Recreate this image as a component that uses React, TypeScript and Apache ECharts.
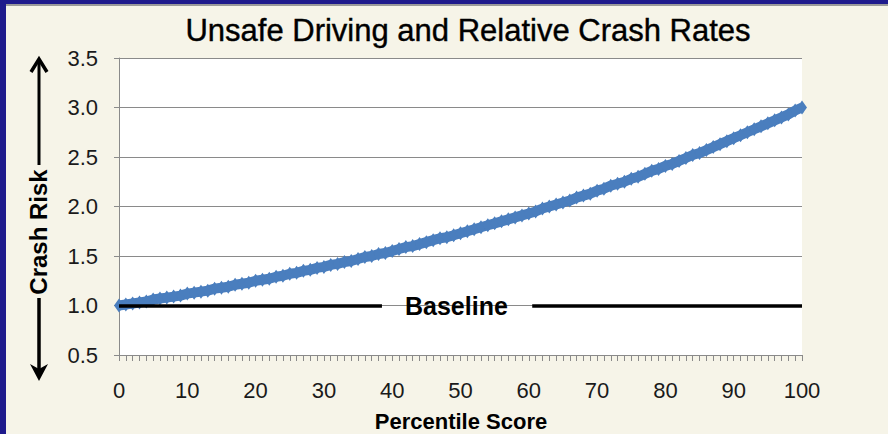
import React, { useEffect, useRef } from "react";
import * as echarts from "echarts";

const titleText = "Unsafe Driving and Relative Crash Rates";
const xAxisTitle = "Percentile Score";
const yAxisTitle = "Crash Risk";
const baselineLabel = "Baseline";
const baselineValue = 1.0;
const baselineGap = [38.5, 60.5];
const baselineLabelAt = 49.4;

// crash risk read at each percentile score 0..100
const riskValues = [
  1.0, 1.01, 1.02, 1.03, 1.04, 1.06, 1.07, 1.08, 1.09, 1.1,
  1.12, 1.13, 1.14, 1.15, 1.17, 1.18, 1.19, 1.21, 1.22, 1.23,
  1.25, 1.26, 1.27, 1.29, 1.3, 1.32, 1.33, 1.35, 1.36, 1.38,
  1.39, 1.41, 1.42, 1.44, 1.45, 1.47, 1.49, 1.5, 1.52, 1.53,
  1.55, 1.57, 1.59, 1.6, 1.62, 1.64, 1.66, 1.68, 1.69, 1.71,
  1.73, 1.75, 1.77, 1.79, 1.81, 1.83, 1.85, 1.87, 1.89, 1.91,
  1.93, 1.95, 1.98, 2.0, 2.02, 2.04, 2.06, 2.09, 2.11, 2.13,
  2.16, 2.18, 2.21, 2.23, 2.25, 2.28, 2.3, 2.33, 2.36, 2.38,
  2.41, 2.43, 2.46, 2.49, 2.52, 2.54, 2.57, 2.6, 2.63, 2.66,
  2.69, 2.72, 2.75, 2.78, 2.81, 2.84, 2.87, 2.9, 2.93, 2.97,
  3.0,
];

const xMin = 0;
const xMax = 100;
const xInterval = 10;
const yMin = 0.5;
const yMax = 3.5;
const yInterval = 0.5;

const FONT = '"Liberation Sans", Arial, sans-serif';
const BLUE = "#4a7ebe";

export default function App() {
  const ref = useRef<HTMLDivElement>(null);

  useEffect(() => {
    if (!ref.current) return;
    const chart = echarts.init(ref.current, undefined, { renderer: "svg" });
    const points = riskValues.map((v, i) => [i, v]);

    chart.setOption({
      animation: false,
      backgroundColor: "#f6f4e8",
      grid: {
        left: 119,
        right: 86,
        top: 58,
        bottom: 79,
        show: true,
        backgroundColor: "#ffffff",
        borderWidth: 0,
      },
      xAxis: {
        type: "value",
        min: xMin,
        max: xMax,
        interval: xInterval,
        axisLine: { show: true, lineStyle: { color: "#8a8a8a", width: 1 } },
        axisTick: { show: true, length: 6, lineStyle: { color: "#8a8a8a" } },
        minorTick: { show: true, splitNumber: 10, length: 6, lineStyle: { color: "#8a8a8a" } },
        splitLine: { show: false },
        axisLabel: {
          margin: 24,
          fontSize: 22,
          fontFamily: FONT,
          color: "#1a1a1a",
        },
      },
      yAxis: {
        type: "value",
        min: yMin,
        max: yMax,
        interval: yInterval,
        axisLine: { show: true, lineStyle: { color: "#8a8a8a", width: 1 } },
        axisTick: { show: true, length: 5, lineStyle: { color: "#8a8a8a" } },
        splitLine: { show: true, lineStyle: { color: "#8a8a8a", width: 1 } },
        axisLabel: {
          margin: 21,
          fontSize: 22,
          fontFamily: FONT,
          color: "#1a1a1a",
          formatter: (v: number) => v.toFixed(1),
        },
      },
      series: [
        {
          type: "line",
          data: points,
          symbol: "diamond",
          symbolSize: [10, 14],
          showAllSymbol: true,
          lineStyle: { color: BLUE, width: 10 },
          itemStyle: { color: BLUE, borderWidth: 0 },
          z: 2,
        },
        {
          type: "line",
          data: [],
          z: 5,
          markLine: {
            silent: true,
            symbol: "none",
            label: { show: false },
            lineStyle: { color: "#000000", width: 3.5, type: "solid" },
            data: [
              [{ coord: [xMin, baselineValue] }, { coord: [baselineGap[0], baselineValue] }],
              [{ coord: [baselineGap[1], baselineValue] }, { coord: [xMax, baselineValue] }],
            ],
          },
          markPoint: {
            silent: true,
            symbol: "circle",
            symbolSize: 1,
            itemStyle: { color: "transparent" },
            label: {
              show: true,
              position: "inside",
              formatter: baselineLabel,
              fontSize: 25,
              fontWeight: "bold",
              fontFamily: FONT,
              color: "#000000",
            },
            data: [{ coord: [baselineLabelAt, baselineValue] }],
          },
        },
      ],
      graphic: [
        { type: "rect", shape: { x: 0, y: 0, width: 888, height: 4 }, style: { fill: "#1e1a8c" }, z: 100 },
        { type: "rect", shape: { x: 0, y: 4, width: 888, height: 2 }, style: { fill: "#9a9a9a" }, z: 100 },
        { type: "rect", shape: { x: 0, y: 0, width: 6, height: 434 }, style: { fill: "#1e1a8c" }, z: 101 },
        {
          type: "text",
          x: 468,
          y: 30,
          style: {
            text: titleText,
            font: `31px ${FONT}`,
            fill: "#000000",
            stroke: "#000000",
            lineWidth: 0.4,
            textAlign: "center",
            textVerticalAlign: "middle",
          },
        },
        {
          type: "text",
          x: 461,
          y: 421,
          style: {
            text: xAxisTitle,
            font: `bold 22px ${FONT}`,
            fill: "#000000",
            textAlign: "center",
            textVerticalAlign: "middle",
          },
        },
        {
          type: "text",
          x: 38,
          y: 232,
          rotation: Math.PI / 2,
          style: {
            text: yAxisTitle,
            font: `bold 24px ${FONT}`,
            fill: "#000000",
            textAlign: "center",
            textVerticalAlign: "middle",
          },
        },
        { type: "line", shape: { x1: 39, y1: 60, x2: 39, y2: 165 }, style: { stroke: "#000", lineWidth: 3 } },
        { type: "polyline", shape: { points: [[31, 72], [39, 59], [47, 72]] }, style: { stroke: "#000", lineWidth: 3.5, fill: "none" } },
        { type: "line", shape: { x1: 39, y1: 298, x2: 39, y2: 372 }, style: { stroke: "#000", lineWidth: 3.5 } },
        { type: "polygon", shape: { points: [[30, 364], [39, 381], [48, 364], [39, 369]] }, style: { fill: "#000" } },
      ],
    });

    return () => chart.dispose();
  }, []);

  return (
    <div
      ref={ref}
      style={{ position: "fixed", left: 0, top: 0, width: 888, height: 434 }}
    />
  );
}
